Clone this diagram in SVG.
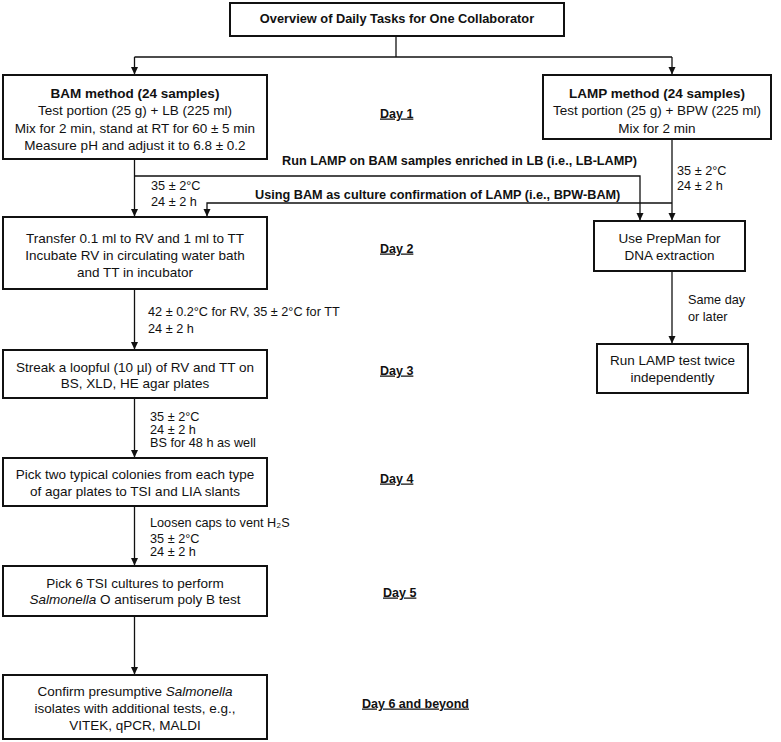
<svg xmlns="http://www.w3.org/2000/svg" width="781" height="742" viewBox="0 0 781 742">
<style>
.box{fill:#fff;stroke:#111;stroke-width:2}
.ln{fill:none;stroke:#111;stroke-width:1.3}
text{font-family:"Liberation Sans",Arial,sans-serif;fill:#111}
.t{font-size:13.5px;text-anchor:middle}
.b{font-weight:bold}
.tb{font-size:12.8px;font-weight:bold;text-anchor:middle}
.lb{font-size:12.7px}
.bl{font-size:12.7px;font-weight:bold}
.day{font-size:12.5px;font-weight:bold;text-decoration:underline}
</style>
<defs>
<marker id="ah" markerWidth="8" markerHeight="8" refX="7" refY="4" orient="auto" markerUnits="userSpaceOnUse">
<path d="M0,0.5 L7.5,4 L0,7.5 Z" fill="#111"/>
</marker>
</defs>
<g id="connectors">
<path class="ln" d="M396,36 V57"/>
<path class="ln" d="M134.5,57 H672"/>
<path class="ln" d="M134.5,57 V74" marker-end="url(#ah)"/>
<path class="ln" d="M672,57 V74" marker-end="url(#ah)"/>
<path class="ln" d="M134.5,159 V216" marker-end="url(#ah)"/>
<path class="ln" d="M134.5,176 H640 V220" marker-end="url(#ah)"/>
<path class="ln" d="M672,139 V220" marker-end="url(#ah)"/>
<path class="ln" d="M672,203 H207 V216" marker-end="url(#ah)"/>
<path class="ln" d="M672,271 V343" marker-end="url(#ah)"/>
<path class="ln" d="M134.5,289 V349" marker-end="url(#ah)"/>
<path class="ln" d="M134.5,398 V457" marker-end="url(#ah)"/>
<path class="ln" d="M134.5,506 V565" marker-end="url(#ah)"/>
<path class="ln" d="M134.5,616 V674" marker-end="url(#ah)"/>
<text class="bl" x="282" y="164.5">Run LAMP on BAM samples enriched in LB (i.e., LB-LAMP)</text>
<text class="bl" x="255" y="198.5">Using BAM as culture confirmation of LAMP (i.e., BPW-BAM)</text>
<text class="lb" x="151" y="189.5">35 ± 2°C</text>
<text class="lb" x="151" y="206">24 ± 2 h</text>
<text class="lb" x="677" y="174.5">35 ± 2°C</text>
<text class="lb" x="677" y="189.5">24 ± 2 h</text>
<text class="lb" x="688" y="303.5">Same day</text>
<text class="lb" x="688" y="320.5">or later</text>
<text class="lb" x="148" y="315.5">42 ± 0.2°C for RV, 35 ± 2°C for TT</text>
<text class="lb" x="148" y="332.5">24 ± 2 h</text>
<text class="lb" x="150" y="420.5">35 ± 2°C</text>
<text class="lb" x="150" y="433.5">24 ± 2 h</text>
<text class="lb" x="150" y="446.5">BS for 48 h as well</text>
<text class="lb" x="150" y="526.5">Loosen caps to vent H₂S</text>
<text class="lb" x="150" y="542.5">35 ± 2°C</text>
<text class="lb" x="150" y="555.5">24 ± 2 h</text>
</g>
<g id="title">
<rect class="box" x="230" y="3" width="334" height="33"/>
<text class="tb" x="397" y="23">Overview of Daily Tasks for One Collaborator</text>
</g>
<g id="bam">
<rect class="box" x="3" y="75" width="264" height="84"/>
<text class="t b" x="135" y="97.5">BAM method (24 samples)</text>
<text class="t" x="135" y="115">Test portion (25 g) + LB (225 ml)</text>
<text class="t" x="135" y="132.5">Mix for 2 min, stand at RT for 60 ± 5 min</text>
<text class="t" x="135" y="150">Measure pH and adjust it to 6.8 ± 0.2</text>
</g>
<g id="lamp">
<rect class="box" x="543" y="75" width="228" height="64"/>
<text class="t b" x="657" y="97.5">LAMP method (24 samples)</text>
<text class="t" x="657" y="115">Test portion (25 g) + BPW (225 ml)</text>
<text class="t" x="657" y="132.5">Mix for 2 min</text>
</g>
<g id="transfer">
<rect class="box" x="3" y="217" width="264" height="72"/>
<text class="t" x="135" y="242.5">Transfer 0.1 ml to RV and 1 ml to TT</text>
<text class="t" x="135" y="259.5">Incubate RV in circulating water bath</text>
<text class="t" x="135" y="276.5">and TT in incubator</text>
</g>
<g id="prepman">
<rect class="box" x="594" y="221" width="151" height="50"/>
<text class="t" x="669.5" y="242.5">Use PrepMan for</text>
<text class="t" x="669.5" y="259.5">DNA extraction</text>
</g>
<g id="runlamp">
<rect class="box" x="597" y="344" width="151" height="49"/>
<text class="t" x="672.5" y="364.5">Run LAMP test twice</text>
<text class="t" x="672.5" y="382">independently</text>
</g>
<g id="streak">
<rect class="box" x="3" y="350" width="264" height="48"/>
<text class="t" x="135" y="371.5">Streak a loopful (10 µl) of RV and TT on</text>
<text class="t" x="135" y="388">BS, XLD, HE agar plates</text>
</g>
<g id="picktwo">
<rect class="box" x="3" y="458" width="264" height="48"/>
<text class="t" x="135" y="478.5">Pick two typical colonies from each type</text>
<text class="t" x="135" y="495.5">of agar plates to TSI and LIA slants</text>
</g>
<g id="picksix">
<rect class="box" x="3" y="566" width="264" height="50"/>
<text class="t" x="135" y="587.5">Pick 6 TSI cultures to perform</text>
<text class="t" x="135" y="604"><tspan font-style="italic">Salmonella</tspan> O antiserum poly B test</text>
</g>
<g id="confirm">
<rect class="box" x="3" y="675" width="264" height="64"/>
<text class="t" x="135" y="695.5">Confirm presumptive <tspan font-style="italic">Salmonella</tspan></text>
<text class="t" x="135" y="712.5">isolates with additional tests, e.g.,</text>
<text class="t" x="135" y="729.5">VITEK, qPCR, MALDI</text>
</g>
<g id="days">
<text class="day" x="380" y="117.5">Day 1</text>
<text class="day" x="380" y="252.5">Day 2</text>
<text class="day" x="380" y="374.5">Day 3</text>
<text class="day" x="380" y="482.5">Day 4</text>
<text class="day" x="383" y="596.5">Day 5</text>
<text class="day" x="362" y="707.5">Day 6 and beyond</text>
</g>
</svg>
